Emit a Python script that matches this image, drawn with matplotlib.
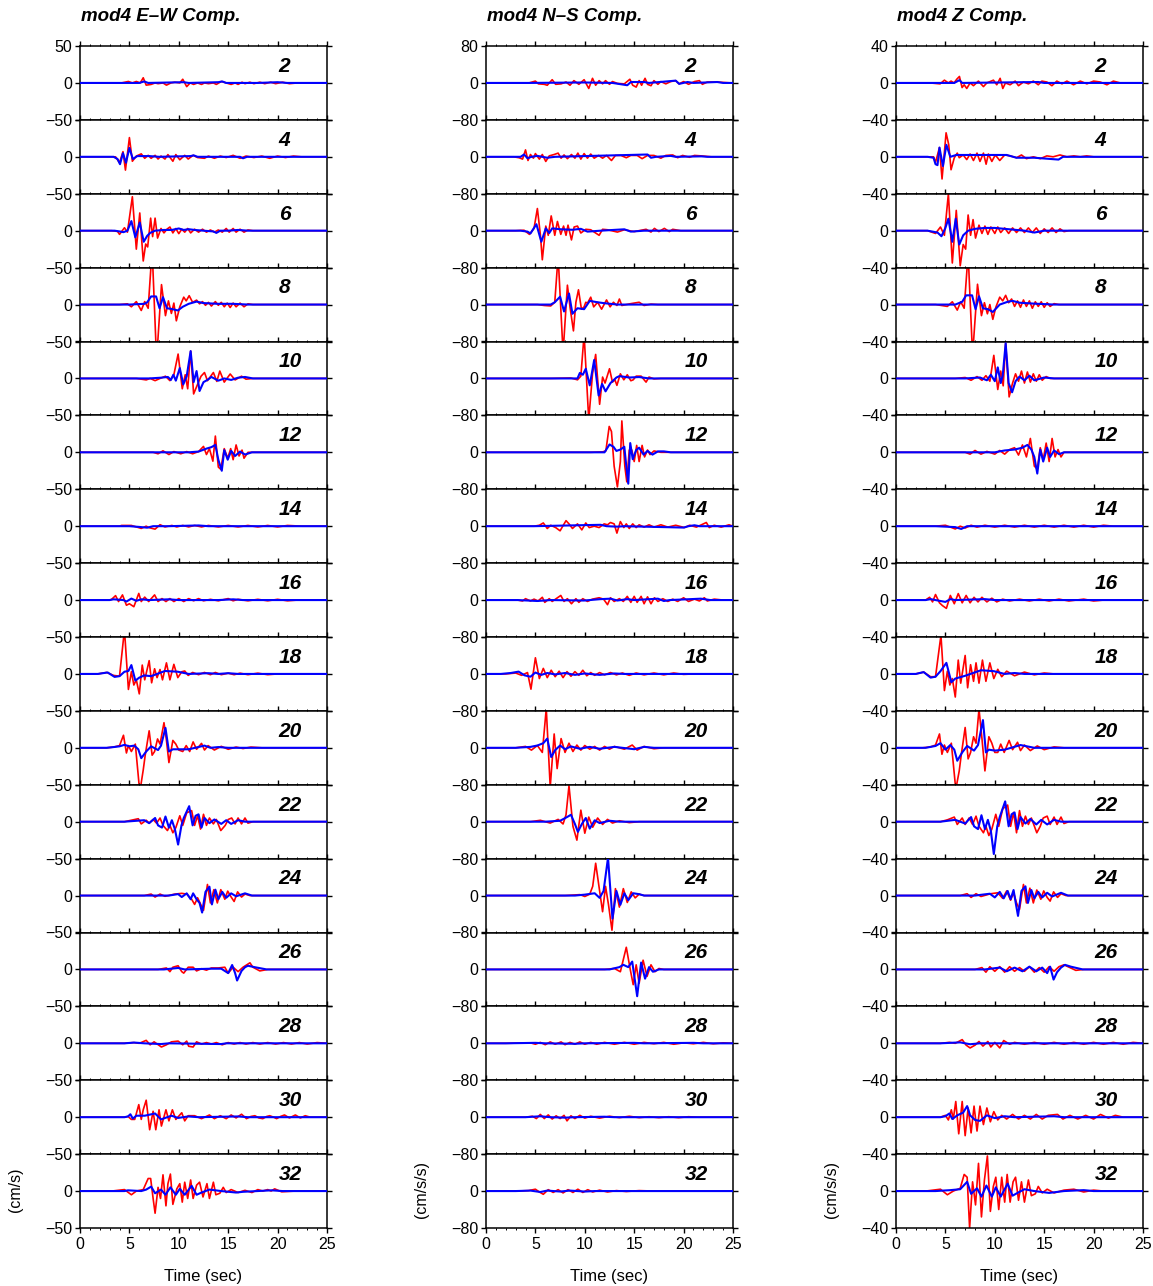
import numpy as np
import matplotlib
matplotlib.use("Agg")
import matplotlib.pyplot as plt

plt.rcParams["font.family"] = ["Liberation Sans", "DejaVu Sans"]

STATIONS = [2, 4, 6, 8, 10, 12, 14, 16, 18, 20, 22, 24, 26, 28, 30, 32]
TITLES = ["mod4 E\u2013W Comp.", "mod4 N\u2013S Comp.", "mod4 Z Comp."]
YLIMS = [50, 80, 40]
UNITS = ["(cm/s)", "(cm/s/s)", "(cm/s/s)"]
T_END = 25.0

# (time [s], amplitude) turning points of each trace; observed = red, synthetic = blue
EW_OBS = {
    2: [(4.2,0),(4.9,2),(5.3,0),(5.7,2),(6.1,0),(6.4,7),(6.7,-3),(7.2,-2),(7.6,0),(7.9,-1),(8.4,0),(8.75,-3),(9.2,0),(9.6,1),(10.1,0),(10.4,5),(10.8,-5),(11.15,0),(11.5,-2),(11.9,0),(12.3,-2),(12.6,0),(13.0,-1),(13.5,0),(13.8,-2),(14.3,2),(14.8,0),(15.3,-2),(15.7,0),(16.0,-2),(16.4,1),(16.7,-1),(17.2,1),(17.6,-1),(18.2,1),(18.7,-1),(19.3,1),(19.8,-1),(20.5,1),(21.2,-1),(22,0)],
    4: [(3.6,0),(4.0,-8),(4.35,7),(4.6,-18),(5.0,26),(5.3,-6),(5.7,1),(6.2,4),(6.55,-2),(6.9,2),(7.2,-2),(7.6,2),(7.9,-3),(8.2,1),(8.6,-3),(8.9,3),(9.4,-6),(9.7,3),(10.1,-4),(10.6,2),(10.95,-3),(11.45,2),(11.9,-1),(12.6,-2),(13.0,1),(13.6,-2),(14.2,1),(14.8,-1),(15.5,2),(16.2,-2),(16.8,1),(17.6,-1),(18.4,1),(19.2,-2),(20,1),(20.8,-1),(21.6,1),(22.4,0)],
    6: [(3.2,0),(3.8,-1),(4.0,-5),(4.5,4),(4.8,-2),(5.3,46),(5.7,-25),(6.05,24),(6.4,-41),(6.65,-18),(6.85,-22),(7.15,17),(7.35,-8),(7.6,17),(7.85,-10),(8.2,3),(8.5,-3),(8.8,2),(9.1,5),(9.4,-3),(9.7,3),(10.0,-4),(10.3,2),(10.6,-2),(10.9,3),(11.2,-3),(11.6,2),(12.0,-2),(12.4,2),(12.8,-2),(13.2,1),(13.6,-2),(14.0,1),(14.4,-2),(14.8,3),(15.1,-2),(15.5,3),(15.8,-2),(16.2,2),(16.6,-2),(17.0,1),(17.5,0)],
    8: [(4.0,0),(4.8,1),(5.2,-3),(5.7,4),(6.2,-8),(6.55,4),(6.9,-5),(7.3,75),(7.75,-75),(8.25,27),(8.65,-15),(8.95,5),(9.25,-12),(9.5,2),(9.75,-22),(10.1,-3),(10.5,10),(10.75,5),(11.05,12),(11.4,3),(11.8,6),(12.1,1),(12.4,4),(12.7,-1),(13.0,3),(13.3,-2),(13.7,4),(14.0,-1),(14.3,3),(14.6,-3),(14.9,2),(15.2,-4),(15.5,2),(15.8,-3),(16.2,2),(16.6,-3),(17.0,1),(17.5,0)],
    10: [(5.7,0),(6.2,-1),(6.7,-2),(7.1,0),(7.6,-3),(8.1,0),(8.65,3),(9.1,-3),(9.5,5),(9.93,33),(10.35,-14),(10.65,5),(10.9,-14),(11.2,37),(11.5,-21),(11.9,-8),(12.25,3),(12.6,8),(12.9,-3),(13.5,8),(13.85,-4),(14.15,10),(14.6,-5),(15.2,6),(15.7,-2),(16.35,3),(16.8,-1),(17.5,0)],
    12: [(7.4,0),(7.9,-2),(8.4,2),(9.0,-3),(9.5,1),(10.2,-2),(10.8,1),(11.4,-2),(12.0,1),(12.5,8),(12.8,-3),(13.1,5),(13.45,-12),(13.7,22),(14.0,-20),(14.25,-23),(14.6,5),(14.95,-8),(15.25,5),(15.5,-10),(15.8,10),(16.1,-5),(16.4,3),(16.6,-8),(17.0,0),(17.4,0)],
    14: [(4.0,0),(4.2,1),(5.2,1),(6.2,-3),(6.7,0),(7.0,-2),(7.6,-4),(8.1,2),(8.6,-1),(9.3,1),(9.8,-1),(10.4,1),(11,-1),(11.6,1),(12.3,-1),(13,1),(14,-1),(15,1),(16,-1),(17,1),(18,-1),(19,1),(20,-1),(21,1),(22.5,0)],
    16: [(3.0,0),(3.2,1),(3.6,6),(3.9,-2),(4.3,7),(4.7,-7),(5.0,-5),(5.45,-9),(5.95,9),(6.2,-2),(6.55,4),(6.95,-2),(7.55,7),(7.9,-2),(8.3,2),(8.7,-2),(9.1,2),(9.5,-2),(10,2),(10.5,-2),(11,2),(11.5,-1),(12,2),(12.5,-1),(13.2,1),(14,-1),(15,2),(15.5,-1),(16,1),(17,-1),(18,1),(19,-1),(20,1),(21,-1),(22,0)],
    18: [(1.8,0),(2.7,2),(3.4,-2),(4.0,-3),(4.5,60),(4.9,-21),(5.2,3),(5.45,-15),(5.7,-8),(6.0,-27),(6.3,12),(6.55,-8),(7.0,18),(7.25,-12),(7.55,7),(7.8,-5),(8.1,6),(8.35,-8),(8.75,15),(9.1,-8),(9.5,13),(9.9,-5),(10.3,3),(10.6,4),(10.95,-2),(11.4,2),(12,-1),(12.6,2),(13.2,-1),(13.7,2),(14.3,-1),(15,1),(15.6,-1),(16.2,1),(17,-1),(18,1),(19,-1),(20,0)],
    20: [(2.7,0),(3.4,1),(4.0,3),(4.4,17),(4.7,-7),(4.9,3),(5.2,-5),(5.6,5),(6.05,-60),(6.4,-30),(6.6,-10),(7.0,23),(7.3,-10),(7.55,-5),(7.85,12),(8.1,5),(8.5,34),(8.75,10),(9.0,-20),(9.4,10),(9.7,5),(10.0,-3),(10.4,-5),(10.75,3),(11.1,-5),(11.45,8),(11.8,-2),(12.3,6),(12.6,-3),(12.97,3),(13.6,-3),(14.3,2),(15,-2),(15.8,1),(16.5,-1),(17.3,1),(18.4,0)],
    22: [(4.5,0),(5.2,2),(5.9,4),(6.2,-3),(6.7,2),(7.0,-2),(7.4,3),(7.75,-2),(8.1,5),(8.4,-5),(8.85,-12),(9.1,-5),(9.4,-15),(9.7,-8),(10.1,8),(10.4,-5),(10.8,12),(11.3,15),(11.6,-5),(11.9,8),(12.2,-10),(12.5,10),(12.8,-5),(13.1,5),(13.5,-3),(13.8,3),(14.25,-12),(14.7,-5),(15.0,3),(15.35,5),(15.7,-3),(16.0,5),(16.35,-3),(16.7,5),(17.0,-2),(17.5,0)],
    24: [(6.5,0),(7.2,2),(7.6,-2),(8.1,2),(8.6,-1),(9.6,2),(10.3,3),(10.8,2),(11.3,-5),(11.6,-12),(11.9,-3),(12.5,-20),(12.9,15),(13.2,-10),(13.55,8),(13.9,-10),(14.25,8),(14.66,-5),(14.95,6),(15.3,-2),(15.6,-8),(15.95,5),(16.35,-2),(16.7,2),(17.2,0)],
    26: [(7.9,0),(8.75,2),(9.1,-3),(9.4,3),(9.93,5),(10.3,-3),(10.5,-5),(10.95,3),(11.45,3),(11.8,-2),(12.3,1),(12.8,-1),(13.3,2),(14,2),(14.66,3),(15.0,-5),(15.5,3),(16,-3),(16.5,3),(17.2,9),(17.5,3),(18.2,-2),(19,0)],
    28: [(4.5,0),(5.4,1),(6.0,0),(6.7,4),(7.1,-2),(7.5,2),(8.24,-5),(8.75,-2),(9.26,2),(9.93,3),(10.4,-2),(10.8,3),(11.0,-4),(11.45,-5),(11.8,2),(12.3,-1),(12.8,1),(13.3,-1),(13.8,1),(14.4,-2),(15,1),(15.6,-1),(16.2,1),(16.8,-1),(17.5,1),(18.2,-1),(19,1),(19.8,-1),(20.6,1),(21.4,-1),(22.2,1),(23,-1),(24,1)],
    30: [(4.5,0),(4.86,1),(5.2,-3),(5.54,-3),(5.95,17),(6.2,-3),(6.4,10),(6.7,23),(7.05,-17),(7.4,8),(7.67,-17),(8.0,10),(8.24,-12),(8.7,10),(9.0,-5),(9.35,10),(9.7,-3),(10.3,6),(10.6,-5),(10.95,2),(11.6,2),(12.3,-2),(13.1,3),(13.6,-2),(14.2,2),(14.8,-2),(15.3,3),(15.8,-1),(16.35,4),(16.85,-2),(17.3,1),(17.7,2),(18.1,-1),(18.5,-2),(18.9,1),(19.2,2),(19.6,0),(19.9,-2),(20.3,1),(20.7,3),(21.2,-1),(21.8,3),(22.3,-1),(22.8,2),(23.3,0),(24,0)],
    32: [(3.2,0),(4.5,2),(5.2,-5),(5.7,0),(6.4,2),(6.9,17),(7.15,17),(7.4,-10),(7.6,-30),(7.9,5),(8.15,-10),(8.4,22),(8.7,-20),(8.9,10),(9.15,23),(9.4,-18),(9.8,3),(10.1,10),(10.35,-15),(10.6,12),(10.9,-10),(11.2,15),(11.45,-10),(11.8,8),(12.1,12),(12.45,-8),(12.85,10),(13.1,-10),(13.5,12),(13.75,-5),(14.15,-3),(14.5,5),(14.8,-2),(15.3,2),(16,-2),(16.7,1),(17.4,-2),(18.0,2),(18.5,0),(19.0,2),(19.35,0),(19.7,3),(20.4,-1),(21.8,0)],
}
EW_SYN = {
    2: [(4,0),(6.0,0),(6.5,2),(6.9,0),(10.5,1),(11,0),(14.0,1),(14.4,2),(14.8,0),(18,0),(20,1),(21,0)],
    4: [(3.4,0),(3.8,-3),(4.05,-10),(4.35,5),(4.65,-8),(5.0,12),(5.35,-3),(5.8,1),(7.0,1),(8.0,0),(11.2,1),(11.5,2),(11.9,0),(16.2,0),(16.5,-2),(16.9,0),(20,0)],
    6: [(3.5,0),(4.0,-1),(4.4,-2),(4.8,0),(5.2,13),(5.6,-9),(6.05,11),(6.45,-15),(6.8,-7),(7.1,-3),(7.6,0),(8.5,1),(9.3,1),(10.0,3),(10.5,1),(11.0,2),(11.6,1),(12.5,0),(13.5,-1),(13.8,-3),(14.2,0),(15,0),(16,1),(17,0)],
    8: [(5.0,0),(6.5,1),(6.8,3),(7.2,11),(7.7,11),(8.05,-5),(8.4,10),(8.8,-5),(9.3,-6),(9.9,-8),(10.4,-3),(11.0,1),(11.8,4),(12.5,2),(14,1),(15.5,1),(17,0)],
    10: [(7,0),(8.2,1),(8.9,2),(9.2,-2),(9.45,5),(9.7,-3),(10.1,14),(10.45,-8),(10.8,3),(11.2,37),(11.5,-5),(11.8,10),(12.1,-17),(12.5,-5),(12.9,-2),(13.3,2),(14.0,-3),(14.6,0),(15.3,-2),(16.0,1),(16.7,2),(17.5,0)],
    12: [(11,0),(12.0,1),(12.8,5),(13.3,7),(13.7,10),(14.0,-10),(14.35,-25),(14.6,3),(14.95,-10),(15.3,2),(15.7,-5),(16.2,1),(16.7,-3),(17.4,0)],
    14: [(5,0),(6,-1),(6.8,-2),(7.4,0),(9,0),(12,1),(13,0)],
    16: [(3,0),(3.4,1),(4.4,0),(4.7,-2),(5.2,2),(5.7,-1),(6.2,1),(7,0),(9,1),(10,0),(14,0),(15.5,1),(16.5,0)],
    18: [(1.8,0),(2.3,1),(2.8,2),(3.5,-4),(4.0,-3),(4.5,3),(4.9,4),(5.2,12),(5.6,-9),(6.0,-5),(6.5,-2),(7.2,-3),(8.0,1),(8.6,4),(9.9,3),(11,0),(13,1),(14,0),(15,1),(16,0)],
    20: [(2.7,0),(3.4,1),(4.0,2),(4.5,4),(5.0,2),(5.5,3),(5.9,-2),(6.2,-14),(6.7,-5),(7.2,2),(7.9,-3),(8.2,3),(8.65,27),(9.0,-5),(9.4,-2),(10,-2),(11,-2),(12.6,3),(13.2,0),(14,1),(15,0)],
    22: [(4.5,0),(6.5,2),(7.0,-2),(7.6,5),(7.9,-5),(8.3,-8),(8.65,7),(9.0,-8),(9.3,2),(9.6,-10),(9.93,-31),(10.27,-5),(10.5,5),(11.05,21),(11.4,-5),(11.7,8),(12.0,10),(12.3,-8),(12.6,5),(13.1,-2),(13.6,3),(14.3,-3),(14.8,2),(15.3,-3),(16,2),(16.7,0)],
    24: [(9,0),(9.93,2),(10.3,-2),(10.8,3),(11.2,-5),(11.45,3),(11.8,-5),(12.1,-10),(12.36,-23),(12.7,5),(13.1,12),(13.35,-12),(13.7,8),(14.0,-5),(14.4,5),(14.8,-3),(15.3,3),(15.8,-1),(16.7,3),(17.4,0)],
    26: [(8.5,0),(9.93,2),(10.6,0),(13.3,1),(14.3,1),(15.0,-5),(15.4,6),(15.7,-5),(15.9,-15),(16.35,-2),(16.7,3),(17.0,5),(17.7,3),(18.9,0)],
    28: [(4.5,0),(5.5,1),(6.5,0),(8.2,-1),(9,0),(14.3,-1),(14.8,0),(20,0)],
    30: [(4.5,0),(4.86,1),(5.1,4),(5.35,-2),(5.7,2),(6.55,2),(7.6,5),(8.2,-3),(9.26,2),(9.93,-1),(10.95,1),(12,0),(16,1),(17,0)],
    32: [(4.5,0),(4.86,1),(6.2,0),(6.7,2),(7.2,6),(7.6,-3),(8.2,2),(8.65,-5),(9.15,5),(9.7,-5),(10.1,3),(10.6,-5),(11.3,7),(11.8,-5),(12.3,-2),(13.1,2),(14.3,0),(15.8,-2),(16.5,-1),(19.4,1),(20.5,0)],
}

NS_OBS = {
    2: [(4.35,0),(5.0,4),(5.3,-2),(5.9,-3),(6.2,-5),(6.7,7),(7.05,-3),(7.6,-2),(8.1,2),(8.5,-5),(8.9,5),(9.4,-3),(9.93,7),(10.4,-12),(10.78,10),(11.1,-5),(11.45,5),(11.8,-2),(12.1,5),(12.5,-3),(12.8,3),(13.3,-1),(14.0,-2),(14.56,8),(14.85,-5),(15.2,-9),(15.5,5),(15.75,-5),(16.1,10),(16.35,-3),(16.7,-6),(17.0,5),(17.4,-3),(17.7,3),(18.2,-2),(18.7,3),(19.2,5),(19.55,-2),(20.0,3),(20.5,-3),(21.1,3),(21.6,5),(21.9,-3),(22.4,2),(23.4,2),(24.8,0)],
    4: [(2.8,0),(3.35,-2),(3.7,-5),(4.0,15),(4.25,-8),(4.5,5),(4.8,-3),(5.0,7),(5.4,-5),(5.7,5),(6.05,-10),(6.4,2),(6.9,5),(7.3,8),(7.6,-3),(7.9,4),(8.24,-4),(8.65,5),(9.0,-3),(9.3,8),(9.6,-5),(9.93,7),(10.27,-3),(10.6,6),(10.95,-3),(11.4,3),(11.8,-3),(12.2,3),(12.7,-8),(13.1,3),(13.65,3),(14.2,-2),(14.66,3),(15.3,3),(15.8,-4),(16.35,3),(17.0,3),(17.7,-3),(18.2,3),(18.9,4),(19.4,-2),(19.9,3),(20.6,-1),(21.1,3),(21.8,2),(22.8,0)],
    6: [(3.0,0),(3.85,1),(4.4,-8),(4.86,5),(5.2,48),(5.5,-8),(5.7,-63),(6.05,10),(6.3,-10),(6.6,32),(6.96,-10),(7.23,20),(7.57,-8),(7.85,10),(8.1,-10),(8.3,12),(8.65,-20),(8.92,8),(9.26,10),(9.6,-5),(10.1,3),(10.6,2),(11.45,-10),(11.8,3),(12.3,2),(13.3,-3),(14,2),(15,-2),(16.2,3),(16.7,-3),(17.05,5),(17.5,-2),(18.05,5),(18.55,-2),(18.9,3),(19.7,0)],
    8: [(5.2,0),(5.9,-2),(6.55,-3),(6.96,5),(7.3,105),(7.8,-105),(8.24,42),(8.5,-5),(8.85,-57),(9.1,5),(9.36,32),(9.66,-10),(9.93,-5),(10.1,5),(10.27,3),(10.6,16),(10.9,-5),(11.3,5),(11.7,-10),(12.2,10),(12.56,-5),(12.9,5),(13.25,-2),(13.5,12),(13.75,-2),(14.2,0),(14.66,2),(15.5,5),(16,-2),(16.7,1),(17.4,0)],
    10: [(6.55,0),(8.58,1),(9.26,-3),(9.6,5),(9.93,95),(10.4,-90),(10.78,10),(11.1,52),(11.5,-56),(11.8,3),(12.05,-10),(12.5,21),(12.8,-8),(13.05,-3),(13.25,-15),(13.6,10),(13.95,-3),(14.3,8),(14.66,-5),(14.9,-3),(15.2,5),(15.7,5),(16.2,-8),(16.5,3),(17.0,-1),(17.7,0)],
    12: [(10.6,0),(11.8,1),(12.13,3),(12.47,56),(12.7,45),(12.97,-30),(13.3,-75),(13.6,-20),(13.75,68),(14.05,-30),(14.25,-64),(14.5,5),(14.76,5),(15.0,-20),(15.25,15),(15.5,-20),(15.8,15),(16.05,-10),(16.35,5),(16.6,-5),(17.0,3),(17.7,0)],
    14: [(4.86,0),(5.4,2),(5.8,7),(6.2,-5),(6.55,2),(7.05,-3),(7.5,-10),(7.85,3),(8.1,12),(8.4,5),(8.75,-5),(9.26,5),(9.7,-8),(10.1,7),(10.45,-3),(10.95,0),(11.45,-3),(11.96,5),(12.3,3),(12.6,8),(12.97,5),(13.25,-15),(13.6,10),(13.95,-3),(14.2,5),(14.5,-5),(14.85,5),(15.2,-3),(15.5,3),(16,-2),(16.5,3),(17.0,-2),(17.7,3),(18.4,-2),(19.2,2),(20.1,-3),(20.6,2),(21.3,-2),(22.3,8),(22.6,-3),(23.1,2),(23.8,-2),(24.6,3)],
    16: [(3.2,0),(3.7,-2),(4.0,3),(4.5,-2),(4.86,2),(5.27,-2),(5.7,6),(5.95,-5),(6.4,3),(6.7,-3),(7.57,10),(7.9,-3),(8.24,3),(8.65,-8),(9.1,3),(9.4,-5),(9.8,3),(10.27,-3),(10.78,2),(11.45,5),(11.9,2),(12.3,-10),(12.6,5),(12.97,-3),(13.5,3),(13.9,-3),(14.3,8),(14.66,-5),(15.0,8),(15.3,-5),(15.7,8),(16.0,-8),(16.35,7),(16.7,-8),(17.05,5),(17.4,-3),(17.9,3),(18.4,-3),(18.9,2),(19.4,-3),(20,5),(20.5,-3),(21.1,2),(21.6,-2),(22.1,5),(22.4,-2),(23.1,2),(24,0)],
    18: [(2.0,0),(3.0,2),(3.6,-3),(4.2,3),(4.55,-33),(5.0,35),(5.4,-10),(5.8,12),(6.2,-8),(6.6,8),(7.0,-6),(7.4,6),(7.8,-8),(8.2,5),(8.6,-5),(9.0,5),(9.4,-3),(9.8,8),(10.2,-4),(10.6,3),(11,-3),(11.5,3),(12,-2),(12.6,3),(13.2,-2),(13.8,2),(14.5,-3),(15.2,2),(16,-2),(17,2),(18,-2),(19,2),(20,-1),(21,0)],
    20: [(3,0),(4,3),(4.6,-5),(5.2,5),(5.7,-10),(6.1,85),(6.5,-85),(6.9,30),(7.2,-45),(7.6,20),(8.0,-10),(8.4,10),(8.8,-8),(9.2,6),(9.6,-5),(10,5),(10.5,-3),(11,3),(11.5,-5),(12,3),(12.5,-3),(13,3),(14,-3),(14.8,6),(15.3,-5),(16,3),(17,-2),(18,0)],
    22: [(4.5,0),(5.5,3),(6.5,-3),(7.3,5),(7.8,-5),(8.1,15),(8.4,78),(8.8,-10),(9.2,-40),(9.6,25),(10,-25),(10.4,10),(10.8,-12),(11.3,8),(11.8,-6),(12.3,5),(12.8,-3),(13.5,2),(14.5,-2),(15.5,0)],
    24: [(8,0),(9.5,2),(10,-2),(10.5,3),(10.8,20),(11.1,70),(11.5,10),(11.8,-35),(12.1,20),(12.4,-20),(12.75,-75),(13.1,15),(13.5,-25),(13.9,15),(14.3,-15),(14.7,8),(15.1,-5),(15.5,3),(16,0)],
    26: [(12,0),(13,2),(13.6,-5),(14.2,48),(14.6,0),(14.9,-33),(15.2,10),(15.5,-30),(15.9,20),(16.3,-15),(16.7,10),(17.1,-5),(17.5,2),(18,0)],
    28: [(2.0,0),(4.5,1),(5.0,-2),(5.5,2),(6.0,-3),(6.5,3),(7.0,-2),(7.6,3),(8.0,-3),(8.5,2),(9.0,-2),(9.5,3),(10,-2),(10.6,2),(11.2,-2),(12,2),(13,-2),(14,2),(15,-2),(16,2),(17,-1),(18,2),(19,-2),(20,1),(21,-1),(22,2),(23,-1),(24,1)],
    30: [(4.0,0),(4.7,2),(5.1,-3),(5.5,6),(5.9,-3),(6.3,5),(6.7,-4),(7.1,3),(7.5,-3),(7.9,4),(8.2,-8),(8.6,3),(9.0,-3),(9.5,4),(10,-2),(10.6,2),(11.5,-2),(12.5,2),(13.5,-1),(14.5,2),(15.5,-1),(16.5,1),(17.5,-1),(18.5,1),(19.5,-1),(20.5,1),(21.5,0)],
    32: [(3.0,0),(4.3,1),(5.0,4),(5.4,-2),(5.8,-7),(6.3,3),(6.8,-3),(7.3,3),(7.8,-4),(8.3,3),(8.8,-3),(9.3,4),(9.8,-3),(10.3,3),(10.8,-2),(11.5,2),(12.3,-2),(13.2,1),(14.2,-1),(15.5,1),(17,0)],
}
NS_SYN = {
    2: [(4.35,0),(9.93,1),(12.8,0),(14.3,-5),(14.66,2),(16.0,2),(16.5,0),(19.2,5),(19.55,-2),(20.4,2),(21,0),(23.4,2),(24,0)],
    4: [(3.2,0),(3.5,0),(3.85,5),(4.2,-3),(4.6,0),(5.2,2),(6.2,-2),(7,0),(16.35,5),(16.7,-2),(17.2,0),(18.7,2),(19.2,0),(21.8,1),(22.4,0)],
    6: [(3.5,0),(4.2,-2),(4.5,-6),(5.1,14),(5.6,-24),(6.05,5),(6.4,-5),(6.7,5),(7.57,3),(8.75,2),(9.6,4),(10.27,-2),(11.6,0),(14,3),(14.66,-2),(16,0)],
    8: [(6.0,0),(6.55,0),(6.96,5),(7.5,17),(7.9,-15),(8.4,24),(8.75,-20),(9.26,-8),(9.93,-10),(10.5,8),(11.28,5),(11.96,3),(13.3,0),(16,0)],
    10: [(8.0,0),(9.26,0),(9.5,12),(9.8,8),(10.1,21),(10.5,-15),(10.95,40),(11.4,-37),(11.75,-12),(12.1,-28),(12.6,-10),(13.2,2),(13.5,5),(14.5,2),(15.5,3),(16.5,0)],
    12: [(11.5,0),(12.0,0),(12.5,17),(12.9,12),(13.2,3),(13.6,6),(14.0,12),(14.2,-30),(14.4,-68),(14.6,20),(14.85,-15),(15.2,5),(15.5,10),(15.95,-5),(16.35,3),(16.85,-5),(17.4,2),(18,2),(18.7,0)],
    14: [(4.86,0),(11.6,3),(12.2,0),(13.3,-1),(14,0),(20,-3),(20.5,0),(21.1,2),(21.6,0)],
    16: [(3.2,0),(5.2,-2),(6.55,0),(9.93,-1),(11.6,2),(12.6,3),(13.3,-1),(14.3,2),(15,0),(17.4,3),(18,-2),(18.6,0),(21.75,3),(22.7,0)],
    18: [(1.5,0),(2.5,2),(3.3,5),(3.9,-3),(4.5,-6),(5.0,3),(5.6,-2),(6.2,2),(7,-1),(8,2),(9,-2),(10,1),(11.5,-2),(13,1),(14,0)],
    20: [(3,0),(4.5,2),(5.2,5),(5.8,10),(6.2,20),(6.6,-20),(7.0,-5),(7.5,5),(8,-3),(8.6,3),(9.5,-2),(10.5,2),(11.5,-2),(13,2),(15,-3),(16,2),(17,0)],
    22: [(6,0),(7.5,2),(8.2,10),(8.6,15),(9.0,-5),(9.3,-22),(9.7,-5),(10.1,8),(10.5,-15),(11,3),(11.5,-3),(12.5,2),(13.5,0)],
    24: [(9,0),(10,2),(11,5),(11.5,-5),(11.9,10),(12.35,82),(12.8,-50),(13.2,10),(13.6,-20),(14.0,5),(14.4,-10),(14.9,5),(15.5,3),(16,0)],
    26: [(12.5,0),(13.5,5),(13.9,10),(14.4,5),(14.8,17),(15.3,-58),(15.7,15),(16.1,-20),(16.5,5),(16.9,-5),(17.5,0)],
    28: [(2,0),(5,1),(6,0),(9,-1),(10,0),(15,1),(16,0),(21,1),(22,0)],
    30: [(4,0),(5.5,2),(6.5,0),(8,-1),(9,0),(12,1),(13,0)],
    32: [(3,0),(4.5,1),(5.5,-2),(6.2,1),(7.5,-1),(8.5,1),(10,-1),(11,0)],
}

Z_OBS = {
    2: [(3.45,0),(4.46,-1),(4.9,3),(5.3,0),(5.57,2),(5.88,0),(6.15,4),(6.42,7),(6.69,-5),(6.9,-2),(7.16,-6),(7.5,0),(7.84,-3),(8.34,2),(8.85,-4),(9.19,0),(9.86,3),(10.2,-2),(10.54,5),(10.81,-6),(11.08,0),(11.55,-2),(12.06,2),(12.4,-3),(12.9,1),(13.4,-1),(13.9,2),(14.4,-2),(14.76,2),(15.27,1),(15.78,-3),(16.28,2),(16.8,-1),(17.3,2),(17.97,-2),(18.65,2),(19.32,-1),(20,2),(20.68,1),(21.35,-2),(22,2),(22.7,0)],
    4: [(3.45,0),(3.8,0),(4.0,-6),(4.4,10),(4.66,-24),(5.07,26),(5.34,13),(5.57,-14),(5.9,-1),(6.2,4),(6.4,-1),(6.8,2),(7.16,-3),(7.5,3),(7.84,-4),(8.2,4),(8.5,-5),(8.85,4),(9.12,-8),(9.35,3),(9.7,-5),(10.05,2),(10.5,-4),(11.0,2),(11.55,1),(12.2,-1),(12.7,2),(13.2,-2),(13.9,0),(14.6,-2),(15.27,1),(15.9,0),(16.6,2),(17.3,0),(18,1),(18.65,0),(19.3,1),(20,0)],
    6: [(3.2,0),(4.0,-3),(4.5,4),(4.9,-5),(5.3,40),(5.7,-35),(6.1,22),(6.5,-38),(6.8,-15),(7.05,-20),(7.3,17),(7.55,-5),(7.8,12),(8.05,-8),(8.4,6),(8.7,-3),(9.0,5),(9.3,-4),(9.6,4),(10,-3),(10.3,4),(10.6,-2),(11,3),(11.4,-3),(11.8,3),(12.2,-2),(12.6,3),(13,-2),(13.4,3),(13.8,-2),(14.2,3),(14.6,-3),(15,2),(15.4,-2),(15.8,3),(16.2,-2),(16.6,2),(17,-1),(17.5,0)],
    8: [(4,0),(5.2,-2),(5.7,3),(6.2,-6),(6.55,3),(6.9,-4),(7.3,55),(7.75,-55),(8.25,22),(8.65,-12),(8.95,2),(9.25,-10),(9.5,0),(9.8,-16),(10.1,-3),(10.5,8),(10.8,4),(11.1,10),(11.4,2),(11.7,6),(12.0,-2),(12.3,4),(12.6,-3),(12.9,5),(13.2,-2),(13.5,4),(13.8,-4),(14.1,3),(14.4,-2),(14.7,3),(15,-3),(15.3,2),(15.6,-2),(16,1),(16.5,0)],
    10: [(6,0),(7,1),(7.6,-2),(8.2,2),(8.7,-2),(9.1,3),(9.5,-3),(9.9,25),(10.3,-12),(10.6,8),(10.85,-8),(11.1,38),(11.45,-20),(11.8,-5),(12.1,5),(12.4,-3),(12.7,8),(13.0,-5),(13.3,7),(13.6,-4),(13.9,5),(14.2,-3),(14.5,4),(14.8,-2),(15.2,2),(15.6,0)],
    12: [(7,0),(7.5,-2),(8,2),(8.6,-2),(9.2,1),(10,-2),(10.5,2),(11,-2),(11.5,3),(12,5),(12.4,-3),(12.8,8),(13.2,-5),(13.6,15),(14.0,-15),(14.3,-18),(14.6,5),(14.9,-8),(15.2,10),(15.5,-10),(15.8,15),(16.1,-5),(16.4,3),(16.7,-5),(17,0)],
    14: [(4,0),(5,1),(5.5,-1),(6.0,-3),(6.5,0),(7.0,-2),(7.6,1),(8.2,-1),(9,1),(10,-1),(11,1),(12,-1),(13,1),(14,-1),(15,1),(16,-1),(17,1),(18,-1),(19,1),(20,-1),(21,1),(22,0)],
    16: [(3.0,0),(3.4,3),(3.7,-2),(4.0,6),(4.4,-3),(4.7,-6),(5.1,-9),(5.5,5),(5.9,-4),(6.3,7),(6.7,-3),(7.1,5),(7.5,-3),(7.9,3),(8.3,-2),(8.7,3),(9.2,-2),(9.7,2),(10.2,-2),(10.8,1),(11.5,-1),(12.5,1),(13.5,-1),(14.5,1),(15.5,-1),(16.5,1),(17.5,-1),(19,1),(20,-1),(21,0)],
    18: [(2,0),(2.8,2),(3.5,-3),(4.0,-3),(4.55,42),(4.9,-18),(5.2,3),(5.45,-12),(5.7,-5),(6.0,-25),(6.3,15),(6.55,-10),(7.0,20),(7.25,-15),(7.55,10),(7.85,-8),(8.1,12),(8.4,-10),(8.75,15),(9.1,-8),(9.5,12),(9.9,-5),(10.3,5),(10.7,-3),(11.2,3),(12,-2),(13,2),(14,-1),(15,1),(16,0)],
    20: [(2.7,0),(3.5,1),(4.0,3),(4.4,15),(4.65,-7),(4.9,3),(5.2,-5),(5.6,5),(6.05,-45),(6.4,-25),(6.6,-8),(7.0,22),(7.3,-12),(7.55,-5),(7.85,12),(8.1,5),(8.4,42),(8.7,10),(9.0,-25),(9.4,12),(9.7,5),(10.0,-5),(10.3,-5),(10.6,4),(10.95,-5),(11.45,8),(11.8,-2),(12.3,6),(12.6,-3),(13,3),(13.6,-3),(14.3,2),(15,-2),(16,1),(17,0)],
    22: [(4.5,0),(5.2,2),(5.9,5),(6.2,-3),(6.7,4),(7.0,-3),(7.4,4),(7.75,-3),(8.1,6),(8.4,-5),(8.85,-12),(9.1,-5),(9.4,-15),(9.7,-8),(10.1,8),(10.4,-5),(10.8,14),(11.3,18),(11.6,-5),(11.9,10),(12.2,-12),(12.5,12),(12.8,-5),(13.1,6),(13.4,-3),(13.7,4),(14.25,-12),(14.6,-5),(14.9,4),(15.3,6),(15.6,-3),(16,5),(16.3,-3),(16.7,5),(17,-2),(17.5,0)],
    24: [(6.5,0),(7.2,2),(7.6,-2),(8.1,2),(8.6,-1),(9.6,2),(10.3,3),(10.8,-3),(11.2,5),(11.6,-5),(11.9,3),(12.2,-8),(12.5,-15),(12.9,12),(13.2,-8),(13.55,8),(13.9,-8),(14.25,6),(14.66,-4),(14.95,5),(15.3,-2),(15.6,-6),(15.95,4),(16.35,-2),(16.7,2),(17.2,0)],
    26: [(8.0,0),(8.7,2),(9.1,-3),(9.5,3),(10.0,-2),(10.5,3),(11.0,-3),(11.5,3),(12,-2),(12.5,2),(13,-2),(13.5,3),(14,-3),(14.5,2),(15,-3),(15.5,3),(16,-2),(16.5,3),(17.0,5),(17.4,3),(18.2,-1),(19,0)],
    28: [(4.5,0),(5.4,1),(6.0,0),(6.7,4),(7.1,-2),(7.5,-5),(8.0,-2),(8.4,2),(8.8,-3),(9.3,2),(9.6,-4),(10,1),(10.5,-5),(10.9,3),(11.5,-1),(12,1),(13,-1),(14,1),(15,-1),(16,1),(17,-1),(18,1),(19,-1),(20,1),(21,-1),(22,1),(23,-1),(24,1)],
    30: [(4.5,0),(5.0,2),(5.3,-3),(5.6,8),(5.8,-2),(6.05,17),(6.35,-18),(6.7,17),(7.0,-20),(7.3,10),(7.6,-17),(7.9,12),(8.2,-15),(8.5,12),(8.85,-8),(9.2,10),(9.55,-5),(9.9,6),(10.3,-3),(10.7,2),(11.2,-2),(11.8,3),(12.4,-2),(13,2),(13.6,-2),(14.2,3),(14.8,-2),(15.4,2),(16.35,3),(16.9,-2),(17.6,2),(18.4,-2),(19.2,2),(20,-2),(20.7,3),(21.5,-1),(22.2,2),(23,0)],
    32: [(3,0),(4.5,2),(5.2,-4),(5.8,0),(6.5,3),(6.9,18),(7.2,15),(7.45,-40),(7.75,10),(8.05,-15),(8.35,30),(8.65,-28),(8.95,12),(9.25,38),(9.55,-22),(9.85,5),(10.1,15),(10.4,-20),(10.7,15),(11.0,-12),(11.25,18),(11.55,-12),(11.85,10),(12.1,15),(12.4,-10),(12.7,10),(13.0,-12),(13.4,12),(13.7,-5),(14.1,-3),(14.4,5),(14.8,-2),(15.3,2),(16,-2),(17,1),(18,2),(19,-1),(20,1),(21,0)],
}
Z_SYN = {
    2: [(4,0),(5.9,0),(6.42,3),(6.7,0),(14.4,1),(15,0),(16,0)],
    4: [(3.2,0),(3.8,-1),(4.0,-8),(4.2,-9),(4.4,10),(4.75,-10),(5.1,13),(5.5,0),(6.1,2),(10.5,2),(11.2,2),(12.2,-1),(14,-1),(16.45,-3),(16.9,0),(19.3,0)],
    6: [(3.2,0),(4.2,-2),(4.6,-6),(5.0,3),(5.3,13),(5.7,-12),(6.05,13),(6.4,-15),(6.8,-5),(7.3,0),(8,2),(9,3),(10,3),(11,2),(12,1),(13,0),(14,-2),(15,0)],
    8: [(6,0),(6.7,3),(7.1,10),(7.7,10),(8.05,-5),(8.4,9),(8.8,-4),(9.3,-5),(9.8,-8),(10.5,0),(11.3,3),(11.8,4),(12.5,2),(14,1),(16,0)],
    10: [(7,0),(8.5,1),(9.2,-2),(9.6,4),(10,-3),(10.3,12),(10.6,-5),(10.8,3),(11.1,38),(11.4,-5),(11.75,-15),(12.1,-3),(12.5,2),(13,-2),(13.5,3),(14,-2),(15,1),(16,0)],
    12: [(10,0),(11,2),(12,3),(12.8,5),(13.3,8),(13.7,3),(14.0,-5),(14.3,-23),(14.6,3),(14.9,-10),(15.3,5),(15.6,-5),(16,2),(16.5,-2),(17,0)],
    14: [(4,0),(6.0,-1),(6.6,-3),(7.2,0),(12,0)],
    16: [(3,0),(3.5,1),(4.5,-1),(5.0,-2),(5.5,1),(6,0),(9,1),(10,0)],
    18: [(2,0),(2.8,2),(3.5,-4),(4.0,-3),(4.5,3),(5.1,12),(5.6,-9),(6.0,-5),(7,-2),(8.6,4),(9.9,3),(11,0),(12,1),(13,0)],
    20: [(3,0),(4.0,2),(4.5,5),(5.0,-2),(5.5,3),(5.9,-2),(6.2,-14),(6.7,-5),(7.2,2),(7.9,-3),(8.3,3),(8.8,30),(9.1,-5),(9.4,-2),(10,-3),(11,-2),(12.6,3),(14,0)],
    22: [(4.5,0),(6,2),(7,-2),(7.6,5),(7.9,-5),(8.3,-8),(8.65,7),(9,-8),(9.3,2),(9.6,-10),(9.9,-35),(10.25,-5),(10.5,5),(11.05,22),(11.4,-5),(11.7,8),(12,10),(12.3,-8),(12.6,5),(13.1,-2),(13.6,3),(14.2,-3),(14.7,2),(15.3,-3),(16,2),(16.7,0)],
    24: [(8,0),(9.5,2),(10.0,-2),(10.5,4),(10.9,-3),(11.3,5),(11.6,-4),(11.9,6),(12.15,-10),(12.35,-22),(12.7,5),(13.1,10),(13.35,-8),(13.7,6),(14.0,-3),(14.4,4),(14.8,-2),(15.3,3),(15.8,-1),(16.7,3),(17.4,0)],
    26: [(9,0),(10.5,2),(11.2,-2),(12,2),(12.8,-2),(13.5,3),(14.2,-2),(14.8,2),(15.3,-4),(15.6,3),(15.95,-11),(16.3,-3),(16.7,2),(17.1,5),(17.7,3),(18.9,0)],
    28: [(4.5,0),(6.5,1),(7.5,-1),(8.5,0),(14,0),(20,0)],
    30: [(4.5,0),(5.0,1),(5.4,4),(5.7,-2),(6.2,2),(6.8,5),(7.2,12),(7.5,2),(8.0,-3),(8.5,-4),(9.2,2),(10,-1),(11,1),(12,0),(16,1),(17,0)],
    32: [(4,0),(5.5,1),(6.5,2),(7.2,10),(7.6,-3),(8.2,3),(8.65,-6),(9.15,6),(9.7,-6),(10.1,4),(10.6,-6),(11.3,8),(11.8,-5),(12.3,-2),(13,2),(14,0),(15.5,-2),(17,0),(19,1),(20,0)],
}

COMPONENTS = [(EW_OBS, EW_SYN), (NS_OBS, NS_SYN), (Z_OBS, Z_SYN)]


def trace(pts):
    """Pad a turning-point list with the quiet record ends at 0 and T_END."""
    arr = np.array([(0.0, 0.0)] + list(pts) + [(T_END, 0.0)], float)
    return arr[:, 0], arr[:, 1]


W, H = 1153, 1286
fig = plt.figure(figsize=(W / 100, H / 100), dpi=100)

LEFT = [80, 486, 896]        # px, left edge of each column
PW = 247                     # px, panel width
TOP, PH = 46, 73.875         # px, top of first panel and panel height

for c, (obs, syn) in enumerate(COMPONENTS):
    A = YLIMS[c]
    for k, st in enumerate(STATIONS):
        y0 = TOP + (k + 1) * PH
        ax = fig.add_axes([LEFT[c] / W, 1 - y0 / H, PW / W, PH / H])
        t, v = trace(obs[st])
        ax.plot(t, v, color="red", lw=1.2, solid_joinstyle="round", zorder=2)
        t, v = trace(syn[st])
        ax.plot(t, v, color="blue", lw=1.5, solid_joinstyle="round", zorder=3)
        ax.set_xlim(0, T_END)
        ax.set_ylim(-A, A)
        ax.set_xticks(np.arange(0, 26, 5))
        ax.set_xticks(np.arange(0, 26, 1), minor=True)
        ax.set_yticks([-A, 0, A])
        ax.set_yticklabels(["\u2212%d" % A, "0", "%d" % A if k == 0 else ""])
        last = k == len(STATIONS) - 1
        ax.tick_params(axis="x", which="both", top=True, bottom=last,
                       labelbottom=last, direction="out", labelsize=11.5, pad=3)
        ax.tick_params(axis="x", which="major", length=3.5, width=1.0)
        ax.tick_params(axis="x", which="minor", length=1.6, width=0.7)
        ax.tick_params(axis="y", left=True, right=True, direction="out",
                       length=3.5, width=1.0, labelsize=11.5, pad=2)
        for s in ax.spines.values():
            s.set_linewidth(1.1)
        ax.text(20.1, 0.3 * A, str(st), fontsize=15, fontweight="bold",
                fontstyle="italic", ha="left", va="baseline")

    fig.text((LEFT[c] + 1) / W, 1 - 21 / H, TITLES[c], fontsize=13.5,
             fontweight="bold", fontstyle="italic", ha="left", va="baseline")
    fig.text((LEFT[c] + PW / 2) / W, 1 - 1276 / H, "Time (sec)", fontsize=12,
             ha="center", va="center")
    fig.text((LEFT[c] - 64) / W, 1 - 1190 / H, UNITS[c], fontsize=11.5,
             rotation=90, ha="center", va="center")

fig.savefig("out.png", dpi=100)
